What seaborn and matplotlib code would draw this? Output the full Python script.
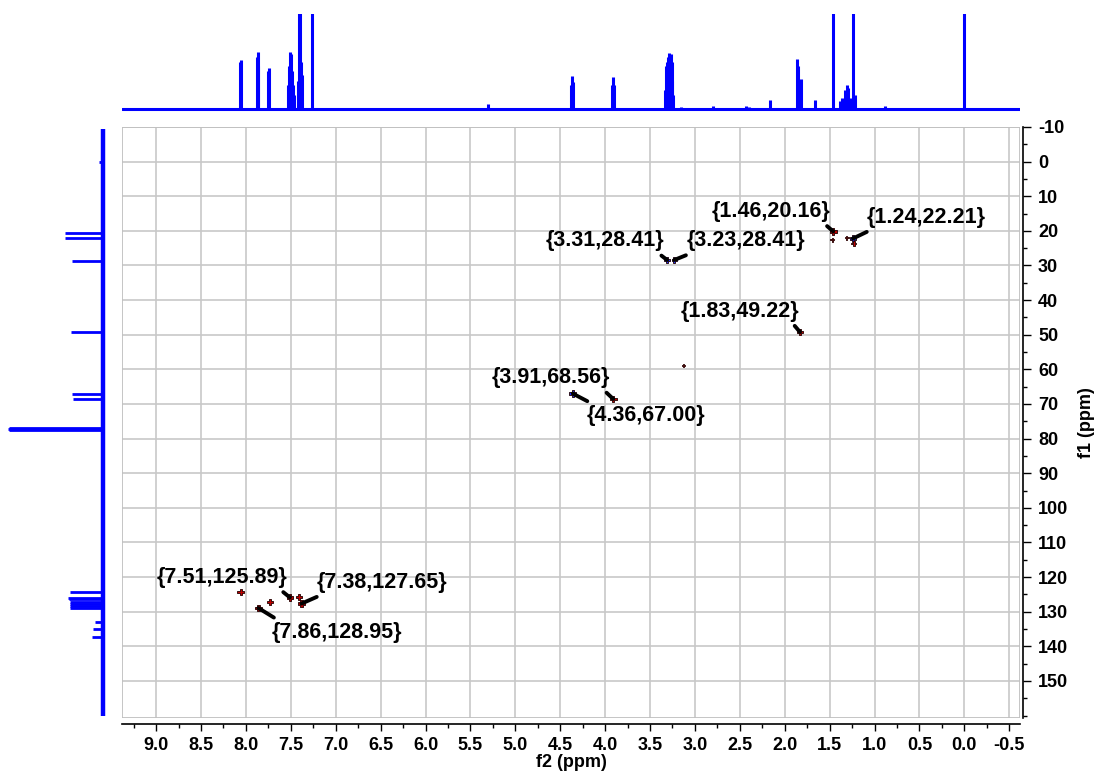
import matplotlib
matplotlib.use("Agg")
import matplotlib.pyplot as plt
import seaborn as sns
import pandas as pd
from matplotlib.ticker import MultipleLocator, FormatStrFormatter, FixedLocator
from matplotlib.patches import Rectangle

# ---------------- data ----------------
# 1H projection (f2): peak positions (ppm) and relative heights (>1 = clipped)
h_ppm = [8.07, 8.06, 7.88, 7.87, 7.86, 7.75, 7.74, 7.53, 7.52, 7.51, 7.50, 7.49,
         7.48, 7.47, 7.42, 7.41, 7.40, 7.39, 7.38, 7.26, 5.30, 4.38, 4.37, 4.36,
         3.92, 3.91, 3.90, 3.33, 3.32, 3.31, 3.30, 3.29, 3.28, 3.27, 3.26, 3.25,
         3.24, 3.15, 2.80, 2.43, 2.40, 2.16, 1.86, 1.85, 1.82, 1.66, 1.46, 1.38,
         1.36, 1.33, 1.31, 1.29, 1.27, 1.24, 1.22, 0.88, 0.00]
h_int = [0.50, 0.52, 0.55, 0.60, 0.45, 0.40, 0.43, 0.25, 0.45, 0.60, 0.58, 0.40,
         0.25, 0.15, 0.30, 1.20, 1.20, 0.50, 0.36, 1.20, 0.05, 0.25, 0.35, 0.28,
         0.25, 0.34, 0.25, 0.20, 0.45, 0.50, 0.55, 0.59, 0.55, 0.58, 0.50, 0.30,
         0.15, 0.02, 0.03, 0.03, 0.02, 0.10, 0.53, 0.45, 0.32, 0.09, 1.20, 0.08,
         0.12, 0.20, 0.25, 0.22, 0.12, 1.20, 0.15, 0.03, 1.20]

# 13C projection (f1): peak positions (ppm) and heights
c_ppm = [0.0, 20.6, 22.2, 28.6, 49.3, 67.1, 68.7, 77.0, 77.2, 77.4, 124.4, 125.9,
         126.3, 127.3, 127.65, 128.3, 128.95, 133.1, 135.0, 137.3]
c_int = [4, 38, 38, 31, 32, 31, 30, 94, 95, 94, 33, 35, 34, 33, 33, 33, 33, 8, 10, 11]

# HSQC cross peaks (f2, f1, phase sign, relative intensity)
cp_f2 = [1.46, 1.47, 1.24, 1.23, 1.31, 3.31, 3.23, 1.83, 3.13, 3.91, 4.36,
         7.51, 7.38, 7.86, 8.06, 7.73, 7.41]
cp_f1 = [20.16, 22.6, 22.21, 23.6, 22.0, 28.41, 28.41, 49.22, 59.0, 68.56, 67.00,
         125.89, 127.65, 128.95, 124.3, 127.3, 125.7]
cp_sign = ["+", "+", "-", "+", "+", "-", "-", "+", "+", "+", "-",
           "+", "+", "+", "+", "+", "+"]
cp_int = [1.0, 0.3, 1.0, 0.5, 0.3, 0.6, 0.6, 1.0, 0.2, 1.0, 1.0,
          1.0, 1.0, 1.0, 0.8, 0.8, 0.8]

# labelled peaks
lab_f2 = [1.46, 1.24, 3.31, 3.23, 1.83, 3.91, 4.36, 7.51, 7.38, 7.86]
lab_f1 = [20.16, 22.21, 28.41, 28.41, 49.22, 68.56, 67.00, 125.89, 127.65, 128.95]

# f1 tick labels
f1_ticks = [-10, 0, 10, 20, 30, 40, 50, 60, 70, 80, 90, 100, 110, 120, 130, 140, 150]

# ---------------- layout / style ----------------
# text offsets (px, image direction)
lab_off = [(-62, -20), (73, -21), (-62, -19), (72, -19), (-60, -21), (-62, -21),
           (73, 22), (-68, -20), (80, -21), (78, 24)]

sns.set_theme(style="white")
plt.rcParams["font.family"] = ["Liberation Sans", "DejaVu Sans"]
plt.rcParams["font.weight"] = "bold"
plt.rcParams["axes.unicode_minus"] = False
for k in ["text.color", "axes.labelcolor", "xtick.color", "ytick.color"]:
    plt.rcParams[k] = "black"

W, H = 1094, 772
fig = plt.figure(figsize=(W / 100, H / 100), dpi=100)


def rect(x0, y0, x1, y1):
    return [x0 / W, 1 - y1 / H, (x1 - x0) / W, (y1 - y0) / H]


ax = fig.add_axes(rect(122, 127, 1020, 718))
axt = fig.add_axes(rect(122, 14, 1020, 113))
axl = fig.add_axes(rect(0, 127, 112, 718))

XL = (9.38, -0.62)
YL = (160.7, -10)
BLUE = "#0000ff"

# ---- top 1H projection ----
axt.vlines(h_ppm, 0, h_int, color=BLUE, lw=2.2)
sns.lineplot(x=[XL[0], XL[1]], y=[0, 0], ax=axt, color=BLUE, lw=2.2)
axt.set_xlim(*XL)
axt.set_ylim(-0.042, 1.0)
axt.axis("off")

# ---- left 13C projection ----
axl.hlines(c_ppm, 0, c_int, color=BLUE, lw=2.0)
axl.plot([0, 0], [-9.5, 160.0], color=BLUE, lw=3.2, solid_capstyle="butt")
axl.set_xlim(103, -9)
axl.set_ylim(*YL)
axl.axis("off")

# ---- main HSQC ----
df = pd.DataFrame({"f2": cp_f2, "f1": cp_f1, "sign": cp_sign, "inten": cp_int})
sns.scatterplot(data=df, x="f2", y="f1", hue="sign", size="inten",
                sizes=(5, 24), palette={"+": "#c00000", "-": "#2030ff"},
                marker="P", edgecolor="#200000", linewidth=0.6, legend=False,
                ax=ax, zorder=5)

ax.set_xlim(*XL)
ax.set_ylim(*YL)
ax.xaxis.set_major_locator(MultipleLocator(0.5))
ax.xaxis.set_minor_locator(MultipleLocator(0.25))
ax.xaxis.set_major_formatter(FormatStrFormatter("%.1f"))
ax.yaxis.set_major_locator(FixedLocator(f1_ticks))
ax.yaxis.set_minor_locator(MultipleLocator(5))
ax.yaxis.set_major_formatter(FormatStrFormatter("%d"))
ax.yaxis.tick_right()
ax.yaxis.set_label_position("right")

ax.grid(True, which="major", color="#c8c8c8", lw=1.2)
ax.set_axisbelow(True)
ax.add_patch(Rectangle((0, 0), 1, 1, transform=ax.transAxes, fill=False,
                       edgecolor="#c0c0c0", lw=1.3, zorder=1))
for s in ["left", "top"]:
    ax.spines[s].set_visible(False)
for s in ["right", "bottom"]:
    ax.spines[s].set_visible(True)
    ax.spines[s].set_color("black")
    ax.spines[s].set_linewidth(1.2)
ax.spines["bottom"].set_position(("outward", 4))
ax.spines["right"].set_position(("outward", 2))

ax.tick_params(axis="x", which="major", bottom=True, top=False, direction="out",
               length=5, width=1, labelsize=13, pad=5)
ax.tick_params(axis="x", which="minor", bottom=True, top=False, direction="out",
               length=3, width=1)
ax.tick_params(axis="y", which="major", right=True, left=False, direction="out",
               length=6, width=1, labelsize=13, pad=5)
ax.tick_params(axis="y", which="minor", right=True, left=False, direction="out",
               length=3, width=1)

ax.set_xlabel("f2 (ppm)", fontsize=13, fontweight="bold", labelpad=0)
ax.set_ylabel("f1 (ppm)", fontsize=13, fontweight="bold", labelpad=7)

for x, y, (dx, dy) in zip(lab_f2, lab_f1, lab_off):
    relx = 0.93 if dx < 0 else 0.07
    rely = 0.0 if dy < 0 else 1.0
    ax.annotate("{%.2f,%.2f}" % (x, y), xy=(x, y), xycoords="data",
                xytext=(dx * 0.72, -dy * 0.72), textcoords="offset points",
                ha="center", va="center", fontsize=15.5, fontweight="bold",
                zorder=6,
                arrowprops=dict(arrowstyle="-", color="black", lw=2.8,
                                shrinkA=1, shrinkB=0, relpos=(relx, rely)))

fig.savefig("out.png", dpi=100)
